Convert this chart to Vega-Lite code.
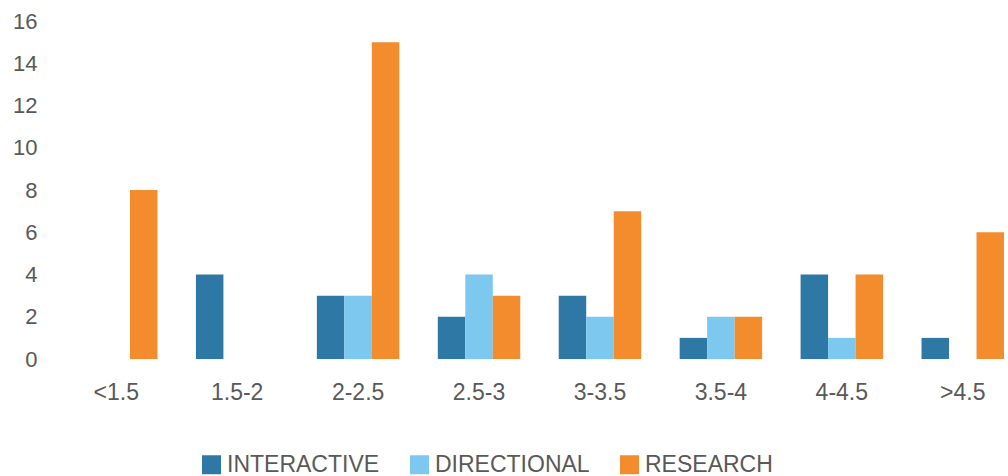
{
  "$schema": "https://vega.github.io/schema/vega-lite/v6.json",
  "width": 929,
  "height": 338,
  "autosize": "none",
  "padding": {"left": 75, "top": 21, "right": 4, "bottom": 117},
  "background": "white",
  "config": {
    "view": {"stroke": null},
    "font": "Liberation Sans"
  },
  "data": {
    "values": [
      {"range": "<1.5", "type": "INTERACTIVE", "count": 0},
      {"range": "<1.5", "type": "DIRECTIONAL", "count": 0},
      {"range": "<1.5", "type": "RESEARCH", "count": 8},
      {"range": "1.5-2", "type": "INTERACTIVE", "count": 4},
      {"range": "1.5-2", "type": "DIRECTIONAL", "count": 0},
      {"range": "1.5-2", "type": "RESEARCH", "count": 0},
      {"range": "2-2.5", "type": "INTERACTIVE", "count": 3},
      {"range": "2-2.5", "type": "DIRECTIONAL", "count": 3},
      {"range": "2-2.5", "type": "RESEARCH", "count": 15},
      {"range": "2.5-3", "type": "INTERACTIVE", "count": 2},
      {"range": "2.5-3", "type": "DIRECTIONAL", "count": 4},
      {"range": "2.5-3", "type": "RESEARCH", "count": 3},
      {"range": "3-3.5", "type": "INTERACTIVE", "count": 3},
      {"range": "3-3.5", "type": "DIRECTIONAL", "count": 2},
      {"range": "3-3.5", "type": "RESEARCH", "count": 7},
      {"range": "3.5-4", "type": "INTERACTIVE", "count": 1},
      {"range": "3.5-4", "type": "DIRECTIONAL", "count": 2},
      {"range": "3.5-4", "type": "RESEARCH", "count": 2},
      {"range": "4-4.5", "type": "INTERACTIVE", "count": 4},
      {"range": "4-4.5", "type": "DIRECTIONAL", "count": 1},
      {"range": "4-4.5", "type": "RESEARCH", "count": 4},
      {"range": ">4.5", "type": "INTERACTIVE", "count": 1},
      {"range": ">4.5", "type": "DIRECTIONAL", "count": 0},
      {"range": ">4.5", "type": "RESEARCH", "count": 6}
    ]
  },
  "mark": {"type": "bar"},
  "encoding": {
    "x": {
      "field": "range",
      "type": "nominal",
      "sort": ["<1.5", "1.5-2", "2-2.5", "2.5-3", "3-3.5", "3.5-4", "4-4.5", ">4.5"],
      "scale": {"paddingInner": 0.318, "paddingOuter": 0},
      "axis": {
        "title": null,
        "labelAngle": 0,
        "domain": false,
        "ticks": false,
        "labelPadding": 22,
        "labelFontSize": 23,
        "labelColor": "#595959"
      }
    },
    "xOffset": {
      "field": "type",
      "type": "nominal",
      "sort": ["INTERACTIVE", "DIRECTIONAL", "RESEARCH"],
      "scale": {"paddingInner": 0, "paddingOuter": 0}
    },
    "y": {
      "field": "count",
      "type": "quantitative",
      "scale": {"domain": [0, 16], "nice": false},
      "axis": {
        "title": null,
        "values": [0, 2, 4, 6, 8, 10, 12, 14, 16],
        "grid": false,
        "domain": false,
        "ticks": false,
        "labelPadding": 38,
        "labelFontSize": 22,
        "labelColor": "#595959"
      }
    },
    "color": {
      "field": "type",
      "type": "nominal",
      "sort": ["INTERACTIVE", "DIRECTIONAL", "RESEARCH"],
      "scale": {
        "domain": ["INTERACTIVE", "DIRECTIONAL", "RESEARCH"],
        "range": ["#2E78A6", "#7CC8EF", "#F28C2D"]
      },
      "legend": {
        "title": null,
        "orient": "none",
        "legendX": 125,
        "legendY": 432,
        "direction": "horizontal",
        "symbolType": "square",
        "symbolSize": 361,
        "symbolStrokeWidth": 0,
        "symbolOpacity": 1,
        "labelFontSize": 23,
        "labelColor": "#595959",
        "labelOffset": 4,
        "columnPadding": 28
      }
    }
  }
}
